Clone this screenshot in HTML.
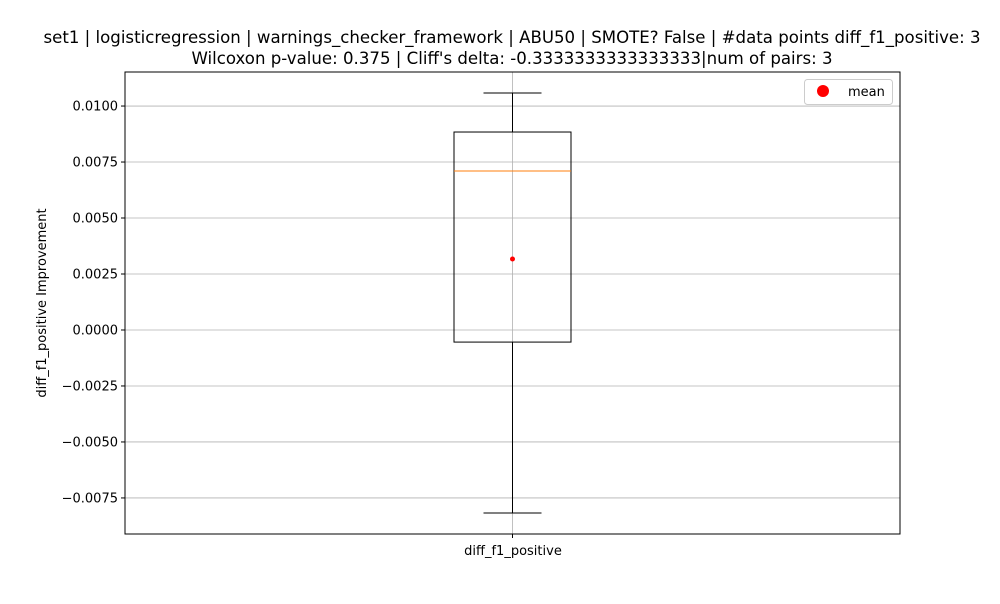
<!DOCTYPE html>
<html><head><meta charset="utf-8"><style>
body{margin:0;background:#fff;font-family:"DejaVu Sans","Liberation Sans",sans-serif;}
svg text{font-family:"DejaVu Sans","Liberation Sans",sans-serif;}
</style></head><body>
<svg id="chart" width="1000" height="600" xmlns="http://www.w3.org/2000/svg">
<text x="512" y="43" text-anchor="middle" font-size="16.6">set1 | logisticregression | warnings_checker_framework | ABU50 | SMOTE? False | #data points diff_f1_positive: 3</text>
<text x="512" y="64" text-anchor="middle" font-size="16.6">Wilcoxon p-value: 0.375 | Cliff's delta: -0.3333333333333333|num of pairs: 3</text>
<text transform="translate(46,303) rotate(-90)" text-anchor="middle" font-size="13">diff_f1_positive Improvement</text>
<g id="grid"></g>
<g id="ticks"></g>
<g id="marks"></g>
<rect x="125" y="72" width="775" height="462" fill="none" stroke="#000" stroke-width="1"/>
<text x="513" y="555" text-anchor="middle" font-size="13">diff_f1_positive</text>
<g>
<rect x="804.5" y="79.5" width="88" height="25" rx="3" fill="#fff" stroke="#ccc"/>
<circle cx="823" cy="91" r="6" fill="red"/>
<text x="848" y="96" font-size="13">mean</text>
</g>
</svg>
<script>
const categories=["diff_f1_positive"];
const whiskerLow=[-0.00817];
const q1=[-0.00054];
const median=[0.0071];
const q3=[0.00884];
const whiskerHigh=[0.01058];
const meanVals=[0.00317];
const yTicks=[0.0100,0.0075,0.0050,0.0025,0.0000,-0.0025,-0.0050,-0.0075];
const yTickLabels=["0.0100","0.0075","0.0050","0.0025","0.0000","\u22120.0025","\u22120.0050","\u22120.0075"];
const yMin=-0.00911,yMax=0.01152,plotTop=72,plotBottom=534,plotLeft=125,plotRight=900;
const y=v=>plotBottom-(v-yMin)/(yMax-yMin)*(plotBottom-plotTop);
const x=i=>plotLeft+(plotRight-plotLeft)*(i+0.5)/categories.length;
const NS="http://www.w3.org/2000/svg";
function mk(tag,attrs,parent){const e=document.createElementNS(NS,tag);for(const k in attrs)e.setAttribute(k,attrs[k]);document.getElementById(parent).appendChild(e);return e;}
yTicks.forEach((t,i)=>{
 const yy=y(t);
 let g=mk("line",{x1:plotLeft,x2:plotRight,y1:yy,y2:yy,stroke:"#b0b0b0","stroke-width":0.8},"grid");
 
 
 let tk=mk("line",{x1:plotLeft-4,x2:plotLeft,y1:yy,y2:yy,stroke:"#000"},"ticks");
 
 
 let tx=mk("text",{x:plotLeft-7,y:yy+4.5,"text-anchor":"end","font-size":13},"ticks");
 tx.textContent=yTickLabels[i];
 
 
});
categories.forEach((c,i)=>{
 const cx=x(i);
 let vg=mk("line",{x1:cx,x2:cx,y1:plotTop,y2:plotBottom,stroke:"#b0b0b0","stroke-width":0.8},"grid");
 
 
 let xt=mk("line",{x1:cx,x2:cx,y1:plotBottom,y2:plotBottom+4,stroke:"#000"},"ticks");
 
 
 let w1=mk("line",{x1:cx,x2:cx,y1:y(q3[i]),y2:y(whiskerHigh[i]),stroke:"#000"},"marks");
 
 
 let w2=mk("line",{x1:cx,x2:cx,y1:y(q1[i]),y2:y(whiskerLow[i]),stroke:"#000"},"marks");
 
 
 let c1=mk("line",{x1:cx-29,x2:cx+29,y1:y(whiskerHigh[i]),y2:y(whiskerHigh[i]),stroke:"#000"},"marks");
 
 
 let c2=mk("line",{x1:cx-29,x2:cx+29,y1:y(whiskerLow[i]),y2:y(whiskerLow[i]),stroke:"#000"},"marks");
 
 
 let b=mk("rect",{x:cx-58.5,y:y(q3[i]),width:117,height:y(q1[i])-y(q3[i]),fill:"none",stroke:"#000"},"marks");
 
 
 let m=mk("line",{x1:cx-58.5,x2:cx+58.5,y1:y(median[i]),y2:y(median[i]),stroke:"#ff7f0e"},"marks");
 
 
 let mp=mk("circle",{cx:cx,cy:y(meanVals[i]),r:2.5,fill:"red"},"marks");
 
 
});
</script>
</body></html>
